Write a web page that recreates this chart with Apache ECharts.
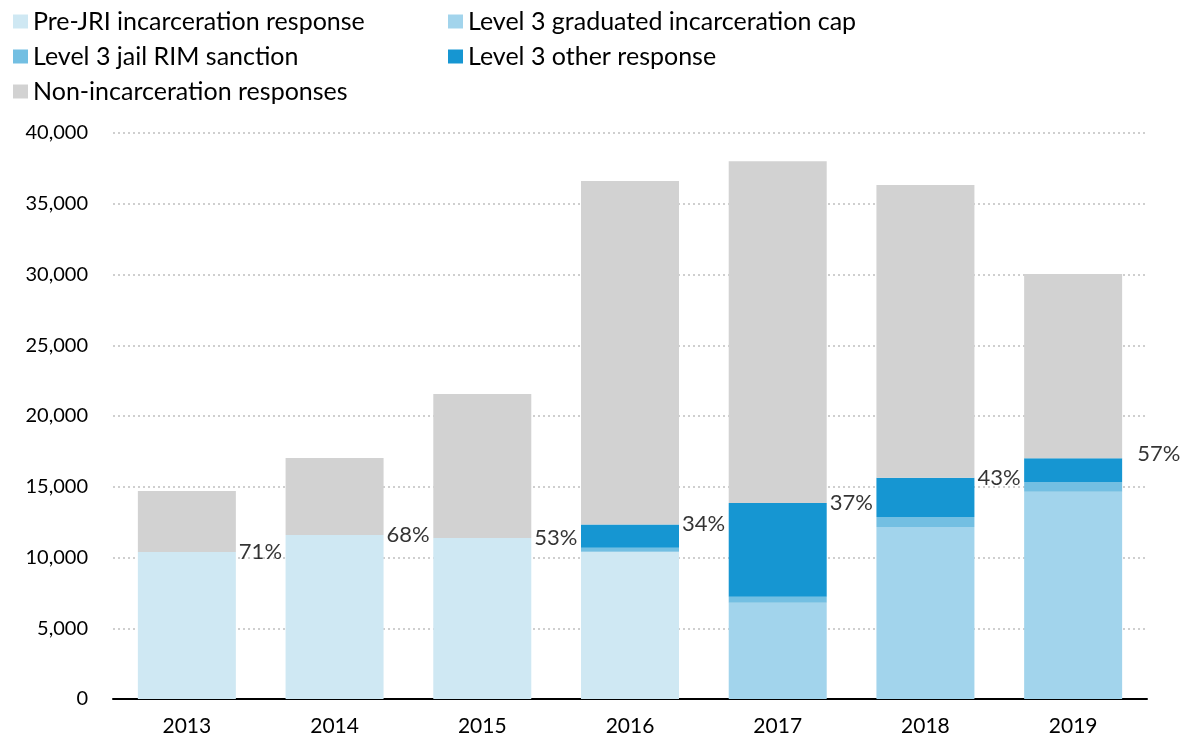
<!DOCTYPE html>
<html>
<head>
<meta charset="utf-8">
<script src="https://cdn.jsdelivr.net/npm/echarts@6/dist/echarts.min.js"></script>
<style>
html,body{margin:0;padding:0;background:#fff;}
#chart{width:1188px;height:743px;}
</style>
</head>
<body>
<div id="chart"></div>
<script>
const years = ['2013','2014','2015','2016','2017','2018','2019'];
const preJRI = [10390, 11590, 11380, 10410, 0, 0, 0];
const gradCap = [0, 0, 0, 0, 6800, 12150, 14650];
const jailRIM = [0, 0, 0, 280, 420, 710, 690];
const otherResp = [0, 0, 0, 1650, 6640, 2780, 1670];
const nonIncar = [4310, 5440, 10170, 24270, 24150, 20690, 13030];
const pctLabels = ['71%', '68%', '53%', '34%', '37%', '43%', '57%'];

const incarTop = years.map((_, i) => preJRI[i] + gradCap[i] + jailRIM[i] + otherResp[i]);

const FONT = 'Lato';
const chart = echarts.init(document.getElementById('chart'));

function barSeries(name, data, color) {
  return {
    name: name, type: 'bar', stack: 'total', data: data,
    barWidth: 98,
    itemStyle: { color: color },
    emphasis: { disabled: true }
  };
}

const legendText = { fontFamily: FONT, fontSize: 25, color: '#000', lineHeight: 25 };

chart.setOption({
  animation: false,
  textStyle: { fontFamily: FONT },
  legend: [
    {
      orient: 'vertical', left: 8, top: 4, itemGap: 10,
      itemWidth: 15, itemHeight: 14, icon: 'rect',
      textStyle: legendText,
      data: ['Pre-JRI incarceration response', 'Level 3 jail RIM sanction', 'Non-incarceration responses']
    },
    {
      orient: 'vertical', left: 443, top: 4, itemGap: 10,
      itemWidth: 15, itemHeight: 14, icon: 'rect',
      textStyle: legendText,
      data: ['Level 3 graduated incarceration cap', 'Level 3 other response']
    }
  ],
  grid: { left: 113, right: 41, top: 133, bottom: 44, containLabel: false },
  xAxis: {
    type: 'category', data: years,
    axisLine: { lineStyle: { color: '#000', width: 2 } },
    axisTick: { show: false },
    axisLabel: { fontFamily: FONT, fontSize: 21, color: '#000', margin: 17 }
  },
  yAxis: {
    type: 'value', min: 0, max: 40000, interval: 5000,
    axisLine: { show: false }, axisTick: { show: false },
    axisLabel: {
      fontFamily: FONT, fontSize: 20, color: '#000', margin: 25,
      formatter: v => v.toLocaleString('en-US')
    },
    splitLine: { lineStyle: { color: '#cfcfcf', type: [2, 3], width: 2 } }
  },
  series: [
    barSeries('Pre-JRI incarceration response', preJRI, '#cfe8f3'),
    barSeries('Level 3 graduated incarceration cap', gradCap, '#a2d4ec'),
    barSeries('Level 3 jail RIM sanction', jailRIM, '#73bfe2'),
    barSeries('Level 3 other response', otherResp, '#1696d2'),
    barSeries('Non-incarceration responses', nonIncar, '#d2d2d2'),
    {
      type: 'scatter', symbolSize: 0, silent: true,
      data: incarTop.map((v, i) => i === incarTop.length - 1
        ? { value: v, label: { offset: [12, -4] } }
        : v),
      label: {
        show: true, position: 'right', distance: 52,
        fontFamily: FONT, fontSize: 22, color: '#000',
        formatter: p => pctLabels[p.dataIndex]
      },
      z: 10
    }
  ]
});
</script>
</body>
</html>
